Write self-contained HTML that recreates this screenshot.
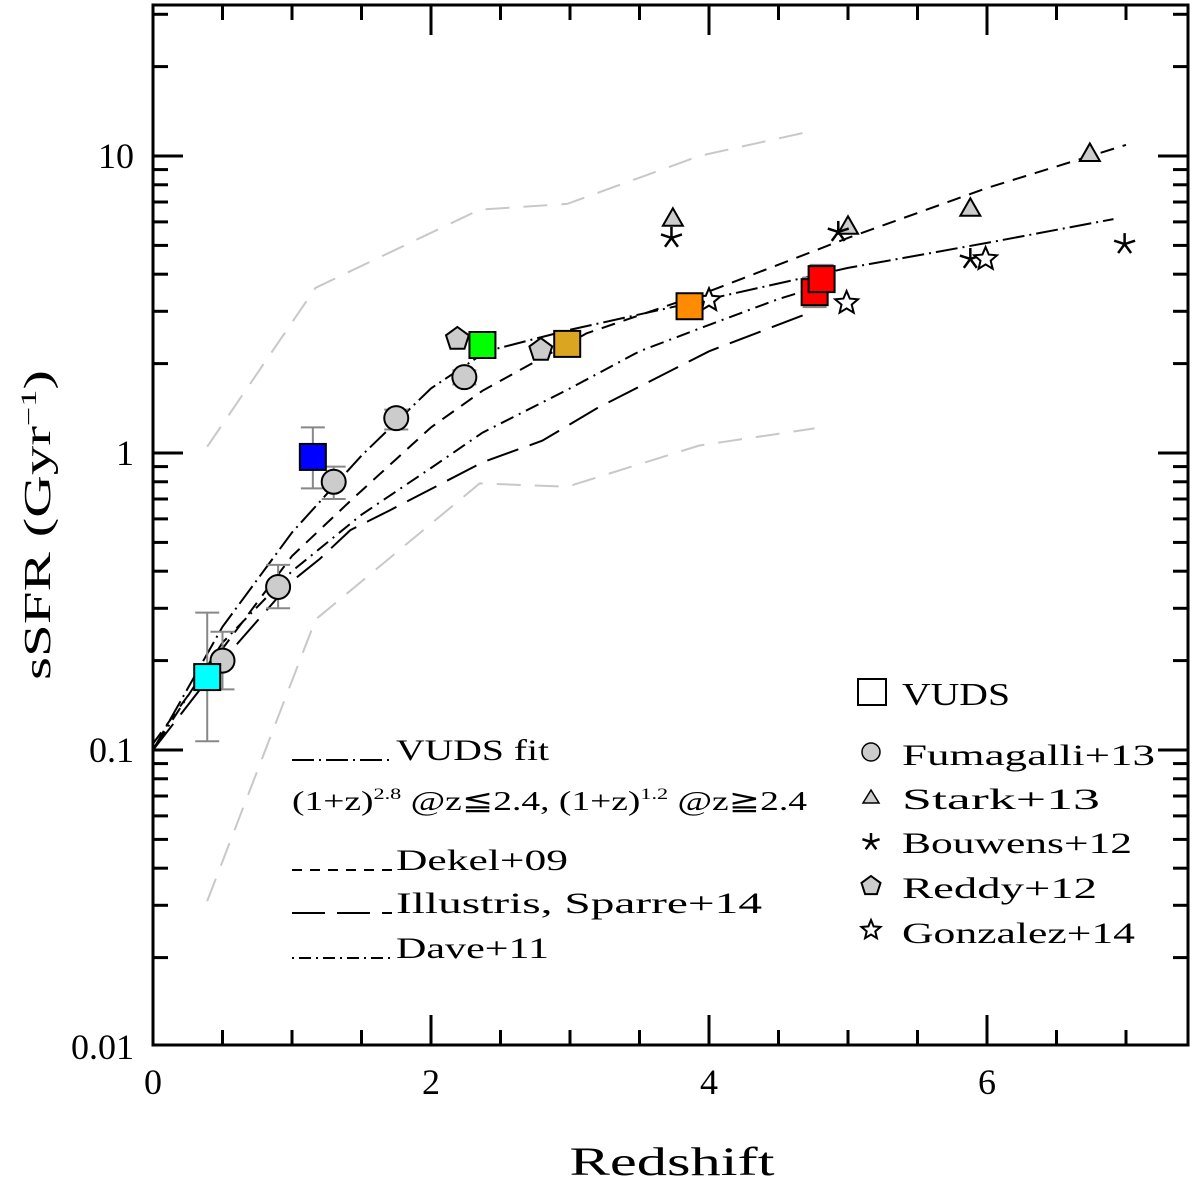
<!DOCTYPE html>
<html><head><meta charset="utf-8"><style>
html,body{margin:0;padding:0;background:#fff}
svg{display:block}
text{font-family:"Liberation Serif",serif;fill:#000}
</style></head><body>
<svg id="chart" width="1200" height="1182" viewBox="0 0 1200 1182" xmlns="http://www.w3.org/2000/svg">
<g id="grayg"></g>
<g id="linesg"></g>
<g id="errg"></g>
<g id="ptsg"></g>
<g id="axg"></g>
<g>
<line x1="292" y1="760" x2="392" y2="760" stroke="#000" stroke-width="2" stroke-dasharray="22,5,2,5"/>
<text x="396" y="760" font-size="30" textLength="153" lengthAdjust="spacingAndGlyphs">VUDS fit</text>
<text x="292" y="810" font-size="27" textLength="515" lengthAdjust="spacingAndGlyphs">(1+z)<tspan font-size="16" dy="-11">2.8</tspan><tspan dy="11"> @z≦2.4, (1+z)</tspan><tspan font-size="16" dy="-11">1.2</tspan><tspan dy="11"> @z≧2.4</tspan></text>
<line x1="292" y1="870" x2="392" y2="870" stroke="#000" stroke-width="2" stroke-dasharray="10,8"/>
<text x="396" y="870" font-size="30" textLength="172" lengthAdjust="spacingAndGlyphs">Dekel+09</text>
<line x1="292" y1="913" x2="392" y2="913" stroke="#000" stroke-width="2" stroke-dasharray="33,12"/>
<text x="396" y="913" font-size="30" textLength="366" lengthAdjust="spacingAndGlyphs">Illustris, Sparre+14</text>
<line x1="292" y1="958" x2="392" y2="958" stroke="#000" stroke-width="2" stroke-dasharray="2,5,12,5"/>
<text x="396" y="958" font-size="30" textLength="153" lengthAdjust="spacingAndGlyphs">Dave+11</text>
</g>
<g>
<rect x="858" y="679" width="28" height="26" fill="#fff" stroke="#000" stroke-width="2"/>
<text x="902" y="705" font-size="32" textLength="108" lengthAdjust="spacingAndGlyphs">VUDS</text>
<circle cx="871" cy="752" r="9" fill="#ccc" stroke="#000" stroke-width="1.5"/>
<text x="902" y="765" font-size="30" textLength="253" lengthAdjust="spacingAndGlyphs">Fumagalli+13</text>
<polygon points="871,790 879,803 863,803" fill="#ccc" stroke="#000" stroke-width="1.5"/>
<text x="902" y="809" font-size="30" textLength="198" lengthAdjust="spacingAndGlyphs">Stark+13</text>
<text x="902" y="853" font-size="30" textLength="230" lengthAdjust="spacingAndGlyphs">Bouwens+12</text>
<text x="902" y="898" font-size="30" textLength="195" lengthAdjust="spacingAndGlyphs">Reddy+12</text>
<text x="902" y="943" font-size="30" textLength="233" lengthAdjust="spacingAndGlyphs">Gonzalez+14</text>
<g id="leglower"></g>
</g>
<text x="672" y="1175" font-size="40" text-anchor="middle" textLength="205" lengthAdjust="spacingAndGlyphs">Redshift</text>
<text transform="translate(50,525) rotate(-90)" font-size="38" text-anchor="middle" textLength="310" lengthAdjust="spacingAndGlyphs">sSFR (Gyr<tspan font-size="22" dy="-14">−1</tspan><tspan dy="14">)</tspan></text>
</svg>
<script>
const vudsZ=[0.39,1.15,2.37,2.98,3.86,4.76,4.81];
const vudsV=[0.176,0.97,2.31,2.33,3.12,3.48,3.85];
const vudsColors=['#00ffff','#0000ff','#00ff00','#daa520','#ff8c00','#ff0000','#ff0000'];
const vudsErrLo=[0.107,0.76,2.2,2.2,3.0,3.1,3.5];
const vudsErrHi=[0.29,1.22,2.45,2.45,3.3,3.9,4.3];
const fumZ=[0.5,0.9,1.3,1.75,2.24];
const fumV=[0.2,0.354,0.80,1.31,1.80];
const fumErrLo=[0.16,0.30,0.7,1.2,1.7];
const fumErrHi=[0.25,0.42,0.9,1.4,1.9];
const starkZ=[3.74,5.0,5.88,6.74];
const starkV=[6.17,5.8,6.67,10.2];
const bouwZ=[3.73,4.93,5.88,6.99];
const bouwV=[5.3,5.55,4.5,5.05];
const reddyZ=[2.19,2.79];
const reddyV=[2.42,2.22];
const gonzZ=[4.0,4.99,5.99];
const gonzV=[3.27,3.2,4.5];
const fitZ=[0,0.5,1,1.5,2,2.4,3,4,5,6,6.91];
const fitV=[0.1,0.26,0.54,0.98,1.65,2.2,2.6,3.3,4.2,5.1,6.13];
const dekelZ=[0,0.4,1,1.42,2,2.37,3.12,4,5,6,7];
const dekelV=[0.105,0.19,0.45,0.69,1.22,1.62,2.53,3.5,5.3,7.8,10.9];
const illZ=[0,0.5,1,1.2,1.42,1.7,2.37,2.8,3.2,4,4.75];
const illV=[0.1,0.2,0.37,0.44,0.55,0.64,0.93,1.1,1.42,2.2,3.0];
const daveZ=[0,0.5,1,1.5,2,2.37,3,3.5,4,4.5,4.85];
const daveV=[0.1,0.23,0.40,0.62,0.89,1.17,1.65,2.2,2.7,3.3,3.7];
const upZ=[0.39,1.17,2.35,2.98,3.93,4.76];
const upV=[1.05,3.6,6.6,6.9,10,12.2];
const loZ=[0.39,1.17,2.35,2.98,3.93,4.76];
const loV=[0.031,0.275,0.79,0.77,1.06,1.21];
const yTickVals=[0.01,0.1,1,10];
const yTickLabels=['0.01','0.1','1','10'];
const xTickVals=[0,2,4,6];
const xTickLabels=['0','2','4','6'];

const X0=153,X1=1188,Y0=5,Y1=1045;
function X(z){return 153+139*z;}
function Y(v){return 453-297*Math.log10(v);}
const NS='http://www.w3.org/2000/svg';
function mk(tag,attrs,parent){const e=document.createElementNS(NS,tag);for(const k in attrs)e.setAttribute(k,attrs[k]);parent.appendChild(e);return e;}
const grayg=document.getElementById('grayg'),linesg=document.getElementById('linesg'),errg=document.getElementById('errg'),ptsg=document.getElementById('ptsg'),axg=document.getElementById('axg');
function pts(zs,vs){return zs.map((z,i)=>X(z).toFixed(1)+','+Y(vs[i]).toFixed(1)).join(' ');}
function line(zs,vs,dash,col,name,parent){
  const e=mk('polyline',{points:pts(zs,vs),fill:'none',stroke:col,'stroke-width':2,'stroke-dasharray':dash},parent);
  
  
}
line(upZ,upV,'24,14','#c8c8c8','envelope-upper',grayg);
line(loZ,loV,'24,14','#c8c8c8','envelope-lower',grayg);
line(fitZ,fitV,'22,5,2,5','#000','vuds-fit-line',linesg);
line(dekelZ,dekelV,'14,9','#000','dekel-line',linesg);
line(illZ,illV,'33,12','#000','illustris-line',linesg);
line(daveZ,daveV,'2,6,14,6','#000','dave-line',linesg);

function errbar(z,lo,hi,name){
  const x=X(z),g=mk('g',{stroke:'#888','stroke-width':2},errg);
  
  
  mk('line',{x1:x,x2:x,y1:Y(lo),y2:Y(hi)},g);
  mk('line',{x1:x-12,x2:x+12,y1:Y(lo),y2:Y(lo)},g);
  mk('line',{x1:x-12,x2:x+12,y1:Y(hi),y2:Y(hi)},g);
}
fumZ.forEach((z,i)=>errbar(z,fumErrLo[i],fumErrHi[i],'fumagalli-error'));
vudsZ.forEach((z,i)=>errbar(z,vudsErrLo[i],vudsErrHi[i],'vuds-error'));

function circle(cx,cy,r,parent){return mk('circle',{cx:cx,cy:cy,r:r,fill:'#ccc',stroke:'#000','stroke-width':2},parent);}
function tri(cx,cy,s,parent){return mk('polygon',{points:`${cx},${cy-s} ${cx+s},${cy+s*0.75} ${cx-s},${cy+s*0.75}`,fill:'#ccc',stroke:'#000','stroke-width':2},parent);}
function pent(cx,cy,r,parent){let p=[];for(let k=0;k<5;k++){const a=-Math.PI/2+k*2*Math.PI/5;p.push((cx+r*Math.cos(a)).toFixed(1)+','+(cy+r*Math.sin(a)).toFixed(1));}return mk('polygon',{points:p.join(' '),fill:'#ccc',stroke:'#000','stroke-width':2},parent);}
function star5(cx,cy,r,parent){let p=[];for(let k=0;k<10;k++){const a=-Math.PI/2+k*Math.PI/5,rr=k%2?r*0.45:r;p.push((cx+rr*Math.cos(a)).toFixed(1)+','+(cy+rr*Math.sin(a)).toFixed(1));}return mk('polygon',{points:p.join(' '),fill:'#fff',stroke:'#000','stroke-width':2},parent);}
function aster(cx,cy,r,parent){const g=mk('g',{stroke:'#000','stroke-width':2.5},parent);
 for(let k=0;k<5;k++){const a=-Math.PI/2+k*2*Math.PI/5;mk('line',{x1:cx,y1:cy,x2:cx+r*Math.cos(a),y2:cy+r*Math.sin(a)},g);}return g;}

fumZ.forEach((z,i)=>{const e=circle(X(z),Y(fumV[i]),12,ptsg);

});
reddyZ.forEach((z,i)=>{const e=pent(X(z),Y(reddyV[i]),12,ptsg);

});
starkZ.forEach((z,i)=>{const e=tri(X(z),Y(starkV[i]),10,ptsg);

});
bouwZ.forEach((z,i)=>{const e=aster(X(z),Y(bouwV[i]),11,ptsg);

});
gonzZ.forEach((z,i)=>{const e=star5(X(z),Y(gonzV[i]),12,ptsg);

});
vudsZ.forEach((z,i)=>{const e=mk('rect',{x:X(z)-13,y:Y(vudsV[i])-13,width:26,height:26,fill:vudsColors[i],stroke:'#000','stroke-width':2},ptsg);

});

const lg=document.getElementById('leglower');
const la=aster(871,842,9,lg);


const lp=pent(871,886,10,lg);


const ls=star5(871,930,10,lg);



const frame=mk('rect',{x:X0,y:Y0,width:X1-X0,height:Y1-Y0,fill:'none',stroke:'#000','stroke-width':3},axg);


for(let z=0;z<=7.4;z+=0.5){const maj=Math.abs(z/2-Math.round(z/2))<1e-6,L=maj?30:15,x=X(z);
 mk('line',{x1:x,x2:x,y1:Y1,y2:Y1-L,stroke:'#000','stroke-width':3},axg);
 mk('line',{x1:x,x2:x,y1:Y0,y2:Y0+L,stroke:'#000','stroke-width':3},axg);}
for(let d=-2;d<=1;d++){for(let m=1;m<=9;m++){const v=m*Math.pow(10,d),y=Y(v);if(y<Y0||y>Y1)continue;const L=m==1?30:15;
 mk('line',{x1:X0,x2:X0+L,y1:y,y2:y,stroke:'#000','stroke-width':3},axg);
 mk('line',{x1:X1,x2:X1-L,y1:y,y2:y,stroke:'#000','stroke-width':3},axg);}}
xTickVals.forEach((z,i)=>{const t=mk('text',{x:X(z),y:1094,'font-size':36,'text-anchor':'middle'},axg);t.textContent=xTickLabels[i];

});
yTickVals.forEach((v,i)=>{const t=mk('text',{x:134,y:Y(v)+12,'font-size':36,'text-anchor':'end'},axg);t.textContent=yTickLabels[i];

});
</script>
</body></html>
